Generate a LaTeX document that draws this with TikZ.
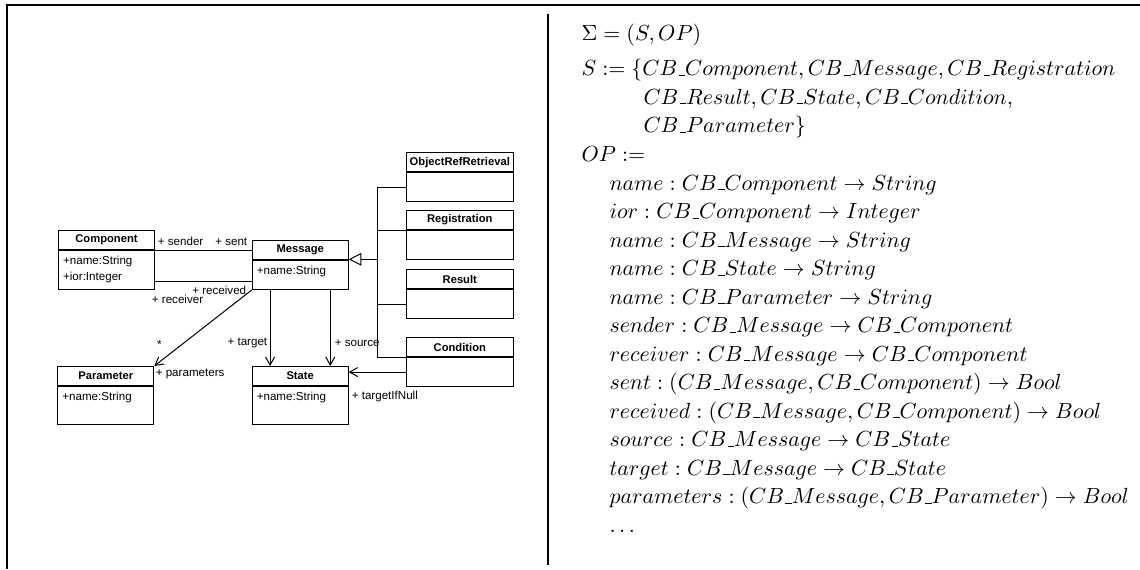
\documentclass[tikz,border=0pt]{standalone}
\usepackage{fontspec}
\newfontfamily\umlfont{Liberation Sans}
\usepackage{tikz}
\usetikzlibrary{positioning,arrows.meta}
\DeclareRobustCommand{\_}{\leavevmode\kern.06em\vbox{\hrule width.3em}}

\tikzset{
  classhead/.style={draw, line width=0.5pt, minimum width=48pt, minimum height=9.5pt,
    inner sep=0pt, anchor=north west, font=\umlfont\bfseries\fontsize{5.6}{6.5}\selectfont},
  classbody/.style={draw, line width=0.5pt, minimum width=48pt, inner sep=0pt},
  wide/.style={minimum width=53.3pt},
  attr/.style={anchor=north west, align=left, inner sep=0pt, xshift=2.3pt, yshift=-3pt,
    font=\umlfont\fontsize{5.8}{7.9}\selectfont},
  role/.style={inner sep=0pt, font=\umlfont\fontsize{5.8}{7}\selectfont},
  opline/.style={anchor=base west, inner sep=0pt, font=\fontsize{10.7}{12}\selectfont},
  frame/.style={line width=1pt}
}

\begin{document}
\begin{tikzpicture}[x=0.5pt, y=-0.5pt, line width=0.5pt,
    >={Straight Barb[length=4pt,width=4.5pt]}]
  \useasboundingbox (0,0) rectangle (1140,569);
  % frame
  \draw[frame] (1140,5) -- (7,5) -- (7,569);
  \draw[frame] (547.5,13.6) -- (547.5,565);

  % classes
  \node[classhead] (comp) at (58,230) {Component};
  \node[classbody, minimum height=19.3pt, below=0pt of comp,
    label={[attr]north west:{+name:String\\+ior:Integer}}] (comp-b) {};
  \node[classhead] (msg) at (251.7,240) {Message};
  \node[classbody, minimum height=14.5pt, below=0pt of msg,
    label={[attr]north west:{+name:String}}] (msg-b) {};
  \node[classhead] (param) at (57.3,366) {Parameter};
  \node[classbody, minimum height=18.8pt, below=0pt of param,
    label={[attr]north west:{+name:String}}] (param-b) {};
  \node[classhead] (state) at (251.7,366) {State};
  \node[classbody, minimum height=18.8pt, below=0pt of state,
    label={[attr]north west:{+name:String}}] (state-b) {};
  \node[classhead, wide] (objref) at (406,152.3) {ObjectRefRetrieval};
  \node[classbody, wide, minimum height=14.2pt, below=0pt of objref] (objref-b) {};
  \node[classhead, wide] (reg) at (406,210) {Registration};
  \node[classbody, wide, minimum height=14.5pt, below=0pt of reg] (reg-b) {};
  \node[classhead, wide] (res) at (406,269.3) {Result};
  \node[classbody, wide, minimum height=14.5pt, below=0pt of res] (res-b) {};
  \node[classhead, wide] (cond) at (406,337.3) {Condition};
  \node[classbody, wide, minimum height=14.3pt, below=0pt of cond] (cond-b) {};

  % associations
  \draw (comp-b.east |- msg.west) -- (msg.west)
    node[role, pos=0, anchor=south west, xshift=1.2pt, yshift=2pt] {+ sender}
    node[role, pos=1, anchor=south east, xshift=-2pt, yshift=2pt] {+ sent};
  \draw ([yshift=-3.1pt]msg-b.west) -- ([yshift=-3.1pt]msg-b.west -| comp-b.east)
    node[role, pos=0, anchor=north east, xshift=-2.5pt, yshift=-2pt] {+ received}
    node[role, pos=1, anchor=north west, xshift=-1.8pt, yshift=-6.5pt] {+ receiver};
  \draw[->] (msg-b.south west) -- (param.north east)
    node[role, pos=1, anchor=center, xshift=2.5pt, yshift=11pt] {*}
    node[role, pos=1, anchor=west, xshift=0.5pt, yshift=-4pt] {+ parameters};
  \draw[->] ([xshift=9.2pt]msg-b.south west) -- ([xshift=9.2pt]state.north west)
    node[role, pos=1, anchor=east, xshift=-1.2pt, yshift=11.5pt] {+ target};
  \draw[->] ([xshift=-9.2pt]msg-b.south east) -- ([xshift=-9.2pt]state.north east)
    node[role, pos=1, anchor=west, xshift=2pt, yshift=11.5pt] {+ source};
  \draw[->] (cond-b.west) -- (cond-b.west -| state.east)
    node[role, pos=1, anchor=west, xshift=1.3pt, yshift=-12pt] {+ targetIfNull};

  % generalization
  \coordinate (bus) at (377.3,259.3);
  \draw[-{Triangle[open,length=6.3pt,width=6.3pt]}] (bus) -- (bus -| msg-b.east);
  \draw (objref-b.west) -| (bus);
  \draw (reg-b.north west) -| (bus);
  \draw (res-b.west) -| (bus);
  \draw (cond-b.north west) -| (bus);

  % signature
  \node[opline] (sig) at (581,40) {$\Sigma = (S, OP)$};
  \node[opline] (sorts) at (581,75.5) {$S := \{CB\_Component, CB\_Message, CB\_Registration$};
  \node[opline] (sorts2) at (643,104) {$CB\_Result, CB\_State, CB\_Condition,$};
  \node[opline] (sorts3) at (643,132.5) {$CB\_Parameter\}$};
  \node[opline] (ops) at (581,161) {$OP :=$};
  \node[opline] (op1) at (609,190) {$name : CB\_Component \rightarrow String$};
  \node[opline] (op2) at (609,218.5) {$ior : CB\_Component \rightarrow Integer$};
  \node[opline] (op3) at (609,247) {$name : CB\_Message \rightarrow String$};
  \node[opline] (op4) at (609,275.5) {$name : CB\_State \rightarrow String$};
  \node[opline] (op5) at (609,304) {$name : CB\_Parameter \rightarrow String$};
  \node[opline] (op6) at (609,332.5) {$sender : CB\_Message \rightarrow CB\_Component$};
  \node[opline] (op7) at (609,361) {$receiver : CB\_Message \rightarrow CB\_Component$};
  \node[opline] (op8) at (609,389.5) {$sent : (CB\_Message, CB\_Component) \rightarrow Bool$};
  \node[opline] (op9) at (609,418) {$received : (CB\_Message, CB\_Component) \rightarrow Bool$};
  \node[opline] (op10) at (609,446.5) {$source : CB\_Message \rightarrow CB\_State$};
  \node[opline] (op11) at (609,475) {$target : CB\_Message \rightarrow CB\_State$};
  \node[opline] (op12) at (609,503.5) {$parameters : (CB\_Message, CB\_Parameter) \rightarrow Bool$};
  \node[opline] (dots) at (609,532) {$\ldots$};
\end{tikzpicture}
\end{document}
